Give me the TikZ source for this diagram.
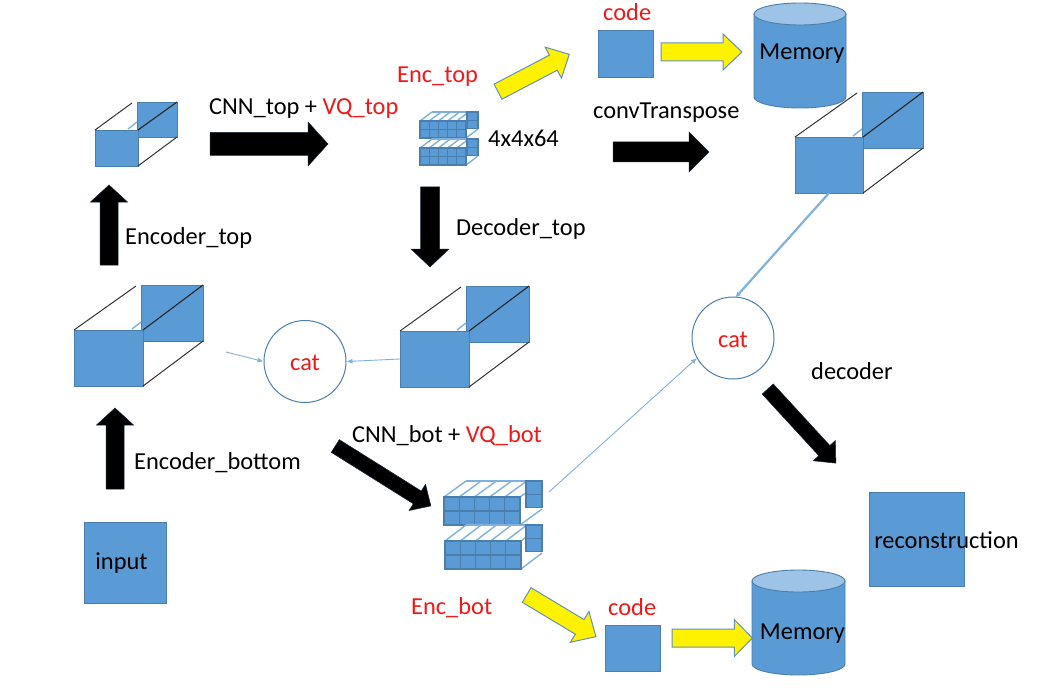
\documentclass[tikz,border=0pt]{standalone}
\usepackage{fontspec}
\setmainfont{Carlito}
\usetikzlibrary{arrows.meta}
\definecolor{bfill}{HTML}{5B9BD5}
\definecolor{bedge}{HTML}{4A7EAD}
\definecolor{btop}{HTML}{9DC3E6}
\definecolor{thinblue}{HTML}{7FB0DE}
\definecolor{txtred}{HTML}{F01818}
\tikzset{
  x=1pt,y=-1pt,
  lbl/.style={inner sep=0pt,yshift=-2pt,font=\fontsize{24.4}{27}\selectfont,text=black},
  redlbl/.style={lbl,text=txtred},
  sq/.style={fill=bfill,draw=bedge,line width=.9pt},
  blk/.style={fill=bfill,draw=bedge,line width=1.1pt},
  ring/.style={circle,draw=bedge,line width=1pt,minimum size=82pt,inner sep=0pt},
  wire/.style={draw=thinblue,line width=.9pt,-{Latex[length=6pt,width=5pt]}},
  blackarr/.style={fill=black,draw=black!75!bfill,line width=.5pt,line join=miter},
  yellowarr/.style={fill=yellow,draw=bedge!85!white,line width=1pt,line join=miter},
  drumbody/.style={fill=bfill,draw=bedge,line width=.9pt},
  drumtop/.style={fill=btop,draw=bedge,line width=.9pt}
}
% \cuboid{name}{x0}{y0}{x1}{y1}{bx0}{by0}{bx1}{by1}
\newcommand{\cuboid}[9]{%
  \draw[sq] (#6,#7) rectangle (#8,#9);
  \draw[thinblue,line width=1.4pt] ({#6-9},{#3-1}) -- (#6,{#3-8});
  \draw[sq] (#2,#3) rectangle (#4,#5);
  \node[inner sep=0pt,minimum width=0pt] (#1) at ({(#2+#4)/2},{(#3+#5)/2}) {};
  \draw[black!80,line width=1pt] (#2,#3) -- ({#6-5},{#7+1});
  \draw[black!85,line width=1.1pt] (#4,#3) -- (#8,#7);
  \draw[black!80,line width=1pt] (#4,#5) -- (#8,#9);
}
% \slab{x0}{y0}{x1}{y1}{dx}{dy}{right column width}
\newcommand{\slab}[7]{%
  \pgfmathsetmacro{\cw}{(#3-#1)/5}
  \pgfmathsetmacro{\ch}{(#4-#2)/2}
  \foreach \i in {0,...,5}{
    \draw[thinblue,line width=1.4pt] ({#1+\i*\cw},#2) -- ++(#5,#6);
  }
  \draw[thinblue,line width=1.4pt] ({#1+#5},{#2+#6}) -- ++({5*\cw},0);
  \draw[thinblue,line width=1.4pt] (#3,#4) -- ++(#5,#6);
  \foreach \j in {0,1}{
    \draw[blk] ({#3+#5-#7},{#2+#6+\j*\ch*.95}) rectangle ++(#7,{\ch*.95});
  }
  \foreach \i in {0,...,4}\foreach \j in {0,1}{
    \draw[blk] ({#1+\i*\cw},{#2+\j*\ch}) rectangle ++(\cw,\ch);
  }
}
% \blockarr{style}{name}{x1}{y1}{x2}{y2}{shaft}{head}{headlen}
\newcommand{\blockarr}[9]{%
  \pgfmathsetmacro{\ang}{atan2(#4-#6,#5-#3)}
  \pgfmathsetmacro{\len}{veclen(#5-#3,#6-#4)}
  \begin{scope}[shift={(#3,#4)},rotate=\ang]
    \draw[#1] (0,{#7/2}) -- ({\len-#9},{#7/2}) -- ({\len-#9},{#8/2}) -- (\len,0)
      -- ({\len-#9},{-#8/2}) -- ({\len-#9},{-#7/2}) -- (0,{-#7/2}) -- cycle;
    \coordinate (#2) at ({\len/2},0);
  \end{scope}
}
% \drumshape{name}{x0}{x1}{ytop}{ybottom}  top ellipse half height 11
\newcommand{\drumshape}[5]{%
  \pgfmathsetmacro{\rx}{(#3-#2)/2}
  \draw[drumbody] (#2,{#4+11}) -- (#2,{#5-11})
     arc[start angle=180,end angle=360,x radius=\rx pt,y radius=11pt]
     -- (#3,{#4+11}) -- cycle;
  \draw[drumtop] ({(#2+#3)/2},{#4+11}) ellipse[x radius=\rx pt,y radius=11pt];
  \coordinate (#1) at ({(#2+#3)/2},{(#4+#5)/2});
}
\begin{document}
\begin{tikzpicture}
\useasboundingbox (0,0) rectangle (1058,698);
\fill[white] (0,0) rectangle (1058,698);

\coordinate (cubeCl) at (400,359);

% cuboids
\cuboid{cubeA}{95}{130}{138}{166}{137}{102}{177}{137}
\cuboid{cubeB}{74}{330}{143}{386}{141}{285}{203}{341}
\cuboid{cubeC}{400}{331}{469}{387}{466}{286}{529}{342}
\cuboid{cubeD}{795}{137}{863}{193}{862}{92}{923}{148}

% small block stacks
\slab{420}{121}{466}{138}{12}{-9}{11}
\slab{420}{148}{466}{165}{12}{-9}{11}
\slab{444}{497}{520}{525}{22}{-16}{16}
\slab{445}{541}{521}{569}{21}{-16}{16}

% plain squares
\node[sq,minimum width=82pt,minimum height=81pt,inner sep=0pt] (input) at (125,562.5) {};
\node[lbl] (inputt) at (121.5,561) {input};
\node[sq,minimum width=95pt,minimum height=94pt,inner sep=0pt] (recon) at (916.5,539) {};
\node[lbl] (recont) at (946.5,538) {reconstruction};
\node[sq,minimum width=55pt,minimum height=47pt,inner sep=0pt] (codeT) at (625.5,53.5) {};
\node[sq,minimum width=55pt,minimum height=46pt,inner sep=0pt] (codeB) at (632.5,648) {};

% memory
\drumshape{memT}{754}{846}{3}{108}
\node[lbl] (memTt) at (802,52) {Memory};
\drumshape{memB}{752}{845}{570}{675}

% yellow block arrows (the lower one ends on the drum, before its label)
\blockarr{yellowarr}{yEncT}{498}{91.7}{569.3}{54.3}{17}{35}{18}
\blockarr{yellowarr}{yCodeT}{661}{52}{742}{52}{18}{36}{19}
\blockarr{yellowarr}{yCodeB}{672}{638}{752.3}{638}{18}{37}{18}
\blockarr{yellowarr}{yEncB}{526.7}{595}{596}{636.7}{17}{36}{19}
\node[lbl] (memBt) at (802.5,632) {Memory};

% cat
\node[ring] (catL) at (305,361.5) {};
\node[redlbl] at (305,361) {cat};
\node[ring] (catR) at (733,338) {};
\node[redlbl] at (733,338) {cat};

% black block arrows
\blockarr{blackarr}{aEncT}{109}{265}{109}{185}{18}{37}{17}
\blockarr{blackarr}{aEncB}{115}{489}{115}{408}{18}{37}{17}
\blockarr{blackarr}{aCnnT}{210}{144}{328}{144}{23}{44}{20}
\blockarr{blackarr}{aConv}{613}{152}{709}{152}{20}{40}{20}
\blockarr{blackarr}{aDec}{430}{187}{430}{267}{19}{38}{18}
\blockarr{blackarr}{aCnnB}{335.3}{446}{431}{506}{15}{31}{16}
\blockarr{blackarr}{aDecR}{767.7}{389}{836}{463.3}{15}{30}{17}

% thin connectors
\coordinate (cubeBr) at (226,352);
\coordinate (cubeDb) at (829,193);
\coordinate (stackB) at (549,492);
\draw[wire] (cubeBr) -- (catL.west);
\draw[wire] (cubeCl) -- (catL.east);
\draw[wire,line width=2.2pt] (cubeDb) -- (735,298);
\draw[wire] (stackB) -- (697,358);

% labels
\node[lbl,anchor=west] at (209,107) {CNN\_top + \textcolor{txtred}{VQ\_top}};
\node[redlbl,anchor=west] at (397,75) {Enc\_top};
\node[redlbl,anchor=west] at (603,10) {code};
\node[lbl,anchor=west] at (488,136) {4x4x64};
\node[lbl,anchor=west] at (593,111) {convTranspose};
\node[lbl,anchor=west] at (456,227) {Decoder\_top};
\node[lbl,anchor=west] at (125,236) {Encoder\_top};
\node[lbl,anchor=west] at (811,369) {decoder};
\node[lbl,anchor=west] at (352,434) {CNN\_bot + \textcolor{txtred}{VQ\_bot}};
\node[lbl,anchor=west] at (134,461) {Encoder\_bottom};
\node[redlbl,anchor=west] at (411,606) {Enc\_bot};
\node[redlbl,anchor=west] at (608,605) {code};
\end{tikzpicture}
\end{document}
